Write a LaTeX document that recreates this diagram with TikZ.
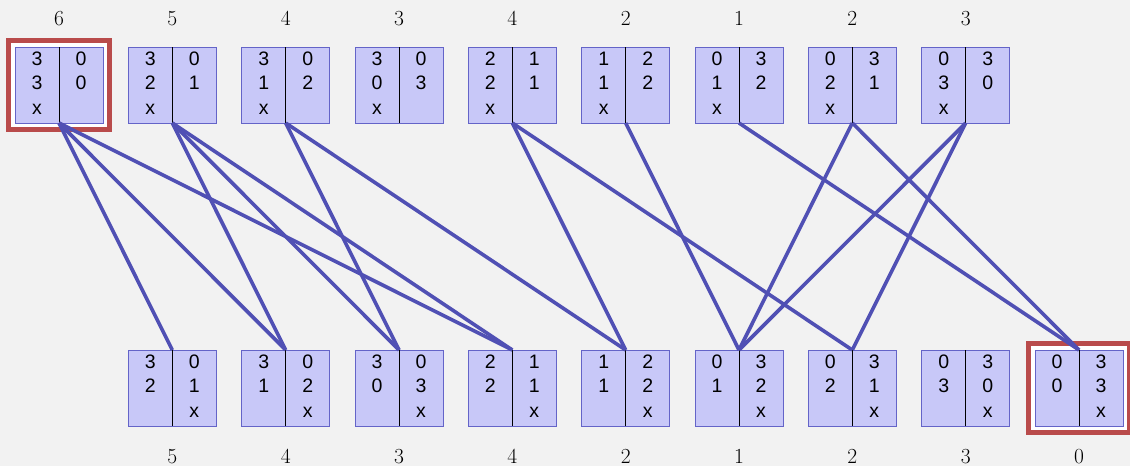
\documentclass[tikz,border=0pt]{standalone}
\usepackage{fontspec}
\newfontfamily\hel{Liberation Sans}
\definecolor{bgcol}{RGB}{242,242,242}
\definecolor{boxfill}{RGB}{200,200,248}
\definecolor{boxborder}{RGB}{100,100,200}
\definecolor{edgecol}{RGB}{80,80,180}
\definecolor{framered}{RGB}{185,75,75}
\tikzset{
  sbox/.style={draw=boxborder, fill=boxfill, line width=0.8pt, minimum width=88pt, minimum height=76pt, inner sep=0pt, outer sep=0pt},
  cell/.style={anchor=base, font=\hel\fontsize{19.5}{21}\selectfont, inner sep=0pt},
  lbl/.style={anchor=base, font=\fontsize{21.5}{23}\selectfont, inner sep=0pt},
  edge/.style={draw=edgecol, line width=3.6pt},
  frame/.style={draw=framered, line width=4.5pt, fill=white, minimum width=101pt, minimum height=89pt, inner sep=0pt, outer sep=0pt},
  divider/.style={draw=black, line width=0.7pt}
}
% name, center x, top y, L1, L2, L3, R1, R2, R3
\newcommand\stbox[9]{%
  \node[sbox] (#1) at (#2,#3+38) {};
  \draw[divider] (#1.north) -- (#1.south);
  \node[cell] (#1l1) at (#2-22,#3+18) {#4};
  \node[cell] (#1l2) at (#2-22,#3+42.5) {#5};
  \node[cell] (#1l3) at (#2-22,#3+67) {#6};
  \node[cell] (#1r1) at (#2+22,#3+18) {#7};
  \node[cell] (#1r2) at (#2+22,#3+42.5) {#8};
  \node[cell] (#1r3) at (#2+22,#3+67) {#9};
}
\begin{document}
\begin{tikzpicture}[x=1pt,y=-1pt]
\fill[bgcol] (0,0) rectangle (1130,466);
\useasboundingbox (0,0) rectangle (1130,466);
% highlight frames
\node[frame] (f1) at (59,85) {};
\node[frame] (f10) at (1079,388) {};
% top row
\stbox{t1}{59}{47}{3}{3}{x}{0}{0}{}
\stbox{t2}{172.3}{47}{3}{2}{x}{0}{1}{}
\stbox{t3}{285.7}{47}{3}{1}{x}{0}{2}{}
\stbox{t4}{399}{47}{3}{0}{x}{0}{3}{}
\stbox{t5}{512.3}{47}{2}{2}{x}{1}{1}{}
\stbox{t6}{625.7}{47}{1}{1}{x}{2}{2}{}
\stbox{t7}{739}{47}{0}{1}{x}{3}{2}{}
\stbox{t8}{852.3}{47}{0}{2}{x}{3}{1}{}
\stbox{t9}{965.7}{47}{0}{3}{x}{3}{0}{}
% bottom row
\stbox{b2}{172.3}{350}{3}{2}{}{0}{1}{x}
\stbox{b3}{285.7}{350}{3}{1}{}{0}{2}{x}
\stbox{b4}{399}{350}{3}{0}{}{0}{3}{x}
\stbox{b5}{512.3}{350}{2}{2}{}{1}{1}{x}
\stbox{b6}{625.7}{350}{1}{1}{}{2}{2}{x}
\stbox{b7}{739}{350}{0}{1}{}{3}{2}{x}
\stbox{b8}{852.3}{350}{0}{2}{}{3}{1}{x}
\stbox{b9}{965.7}{350}{0}{3}{}{3}{0}{x}
\stbox{b10}{1079}{350}{0}{0}{}{3}{3}{x}
% top labels
\node[lbl] (lt1) at (59,25) {6};
\node[lbl] (lt2) at (172.3,25) {5};
\node[lbl] (lt3) at (285.7,25) {4};
\node[lbl] (lt4) at (399,25) {3};
\node[lbl] (lt5) at (512.3,25) {4};
\node[lbl] (lt6) at (625.7,25) {2};
\node[lbl] (lt7) at (739,25) {1};
\node[lbl] (lt8) at (852.3,25) {2};
\node[lbl] (lt9) at (965.7,25) {3};
% bottom labels
\node[lbl] (lb2) at (172.3,463) {5};
\node[lbl] (lb3) at (285.7,463) {4};
\node[lbl] (lb4) at (399,463) {3};
\node[lbl] (lb5) at (512.3,463) {4};
\node[lbl] (lb6) at (625.7,463) {2};
\node[lbl] (lb7) at (739,463) {1};
\node[lbl] (lb8) at (852.3,463) {2};
\node[lbl] (lb9) at (965.7,463) {3};
\node[lbl] (lb10) at (1079,463) {0};
% edges
\foreach \a/\b in {t1/b2,t1/b3,t1/b5,t2/b3,t2/b4,t2/b5,t3/b4,t3/b6,t5/b6,t5/b8,t6/b7,t7/b10,t8/b7,t8/b10,t9/b7,t9/b8}
  \draw[edge] (\a.south) -- (\b.north);
\end{tikzpicture}
\end{document}
